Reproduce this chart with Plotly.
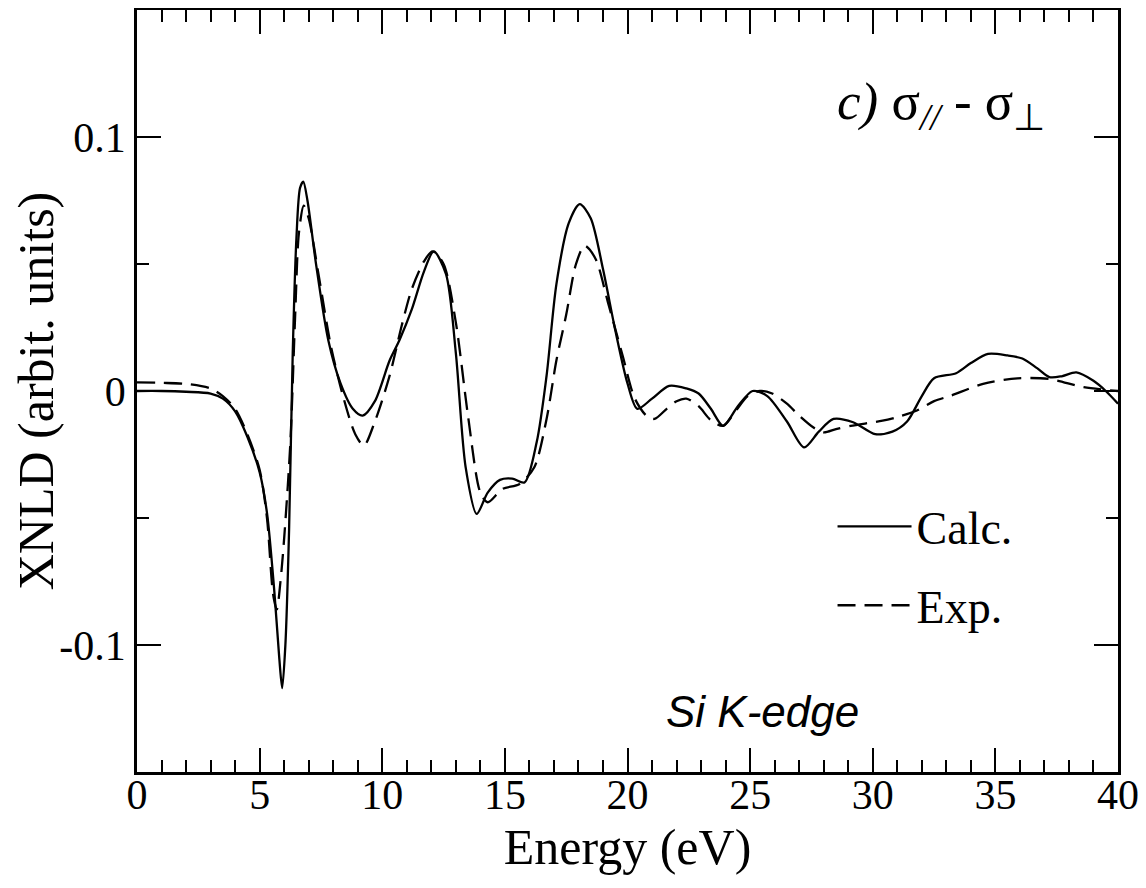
import plotly.graph_objects as go

# Calc. (solid)
calc_E = [0, 1, 2, 3, 3.5, 4, 4.5, 5, 5.3, 5.6, 5.8, 5.92, 6.05, 6.2, 6.35, 6.5, 6.65, 6.78,
          6.95, 7.3, 7.8, 8.3, 8.8, 9.2, 9.7, 10.3, 10.7, 11.2, 11.7, 12.1, 12.6, 13.0, 13.4,
          13.85, 14.3, 14.8, 15.3, 15.8, 16.3, 16.7, 17.1, 17.6, 18.05, 18.5, 19.0, 19.5, 20.0,
          20.4, 21.0, 21.7, 22.4, 22.9, 23.4, 23.9, 24.5, 25.1, 25.7, 26.5, 27.2, 27.8, 28.4,
          29.2, 30.1, 30.8, 31.4, 32.0, 32.5, 33.4, 34.0, 34.7, 35.5, 36.1, 36.7, 37.2, 37.7,
          38.3, 39.0, 39.5, 40.0]
calc_v = [0.0, 0.0, -0.0003, -0.001, -0.003, -0.008, -0.018, -0.032, -0.048, -0.079, -0.105,
          -0.117, -0.100, -0.055, 0.015, 0.060, 0.080, 0.0824, 0.075, 0.050, 0.020, 0.003,
          -0.007, -0.0097, -0.004, 0.012, 0.020, 0.032, 0.047, 0.055, 0.046, 0.015, -0.030,
          -0.0484, -0.040, -0.035, -0.0345, -0.036, -0.020, 0.006, 0.042, 0.066, 0.0736, 0.068,
          0.048, 0.024, 0.003, -0.007, -0.003, 0.002, 0.001, -0.001, -0.007, -0.0137, -0.006,
          0.0, -0.002, -0.012, -0.0222, -0.016, -0.011, -0.0123, -0.017, -0.016, -0.012,
          -0.002, 0.005, 0.007, 0.011, 0.0146, 0.014, 0.0128, 0.009, 0.0055, 0.0058, 0.0073,
          0.004, 0.000, -0.005]

# Exp. (dashed)
exp_E = [0, 1, 2, 3, 3.5, 4, 4.5, 5, 5.3, 5.55, 5.7, 5.85, 6.0, 6.25, 6.45, 6.6, 6.8, 7.0,
         7.4, 7.9, 8.4, 8.9, 9.25, 9.7, 10.3, 10.8, 11.2, 11.7, 12.05, 12.5, 13.0, 13.5, 14.0,
         14.3, 14.9, 15.6, 16.2, 16.7, 17.1, 17.5, 17.9, 18.25, 18.7, 19.2, 19.8, 20.3, 20.8,
         21.1, 21.6, 22.0, 22.4, 22.9, 23.4, 23.9, 24.4, 24.9, 25.4, 25.9, 26.5, 27.0, 27.6,
         28.0, 28.5, 29.1, 30.4, 31.1, 31.8, 32.5, 33.2, 34.5, 35.9, 37.2, 38.6, 40.0]
exp_v = [0.0034, 0.0032, 0.0028, 0.001, -0.002, -0.007, -0.017, -0.031, -0.050, -0.080,
         -0.086, -0.075, -0.058, -0.021, 0.030, 0.062, 0.073, 0.068, 0.046, 0.018, -0.002,
         -0.017, -0.0215, -0.012, 0.006, 0.026, 0.040, 0.051, 0.055, 0.050, 0.027, -0.010,
         -0.040, -0.0438, -0.0386, -0.0366, -0.030, -0.011, 0.012, 0.030, 0.050, 0.0572,
         0.052, 0.035, 0.014, -0.003, -0.010, -0.011, -0.007, -0.004, -0.003, -0.006, -0.0115,
         -0.0137, -0.008, -0.002, 0.0, -0.001, -0.005, -0.0097, -0.0145, -0.0163, -0.015,
         -0.0137, -0.0117, -0.010, -0.0077, -0.004, -0.0018, 0.0028, 0.005, 0.0047, 0.0015,
         0.0]

y_tickvals = [-0.1, 0, 0.1]
y_ticktext = ["-0.1", "0", "0.1"]
x_tickvals = [0, 5, 10, 15, 20, 25, 30, 35, 40]

serif = "Liberation Serif, Times New Roman, serif"

fig = go.Figure()
fig.add_trace(go.Scatter(x=calc_E, y=calc_v, mode="lines", name="Calc.", legendgroup="calc",
                         line=dict(color="black", width=2.3, shape="spline", smoothing=0.8)))
fig.add_trace(go.Scatter(x=exp_E, y=exp_v, mode="lines", name="Exp.", legendgroup="exp",
                         line=dict(color="black", width=2.3, dash="18px,9px",
                                   shape="spline", smoothing=0.8)))

axis_common = dict(showline=True, linecolor="black", linewidth=2.5, mirror="ticks",
                   ticks="inside", tickcolor="black", tickwidth=2, ticklen=24,
                   showgrid=False, zeroline=False, automargin=False,
                   tickfont=dict(family=serif, size=42, color="black"))

fig.update_xaxes(range=[0, 40], tickvals=x_tickvals, ticklabelstandoff=-16,
                 minor=dict(dtick=1, ticks="inside", ticklen=12, tickwidth=2,
                            tickcolor="black", showgrid=False),
                 title=dict(text="Energy (eV)", font=dict(family=serif, size=50, color="black"),
                            standoff=12),
                 **axis_common)
fig.update_yaxes(range=[-0.15, 0.15], tickvals=y_tickvals, ticktext=y_ticktext,
                 minor=dict(dtick=0.05, ticks="inside", ticklen=12, tickwidth=2,
                            tickcolor="black", showgrid=False),
                 title=dict(text="XNLD (arbit. units)",
                            font=dict(family=serif, size=50, color="black"), standoff=0),
                 **axis_common)

fig.add_annotation(xref="paper", yref="paper", x=0.712, y=0.875, xanchor="left",
                   yanchor="middle", showarrow=False,
                   text="<i>c)</i> σ<sub><i>//</i></sub> - σ<sub>⊥</sub>",
                   font=dict(family=serif, size=53, color="black"))
fig.add_annotation(xref="paper", yref="paper", x=0.537, y=0.08, xanchor="left",
                   yanchor="middle", showarrow=False, text="<i>Si K-edge</i>",
                   font=dict(family="Liberation Sans, Arial, sans-serif", size=44,
                             color="black"))

fig.update_layout(
    width=1138, height=880,
    margin=dict(l=129, r=28, t=2, b=116),
    paper_bgcolor="white", plot_bgcolor="white",
    showlegend=True,
    legend=dict(x=0.709, y=0.37, xanchor="left", yanchor="top",
                bgcolor="rgba(0,0,0,0)", itemwidth=74, traceorder="grouped",
                font=dict(family=serif, size=46, color="black"),
                tracegroupgap=16),
)

fig.write_html("out.html")
